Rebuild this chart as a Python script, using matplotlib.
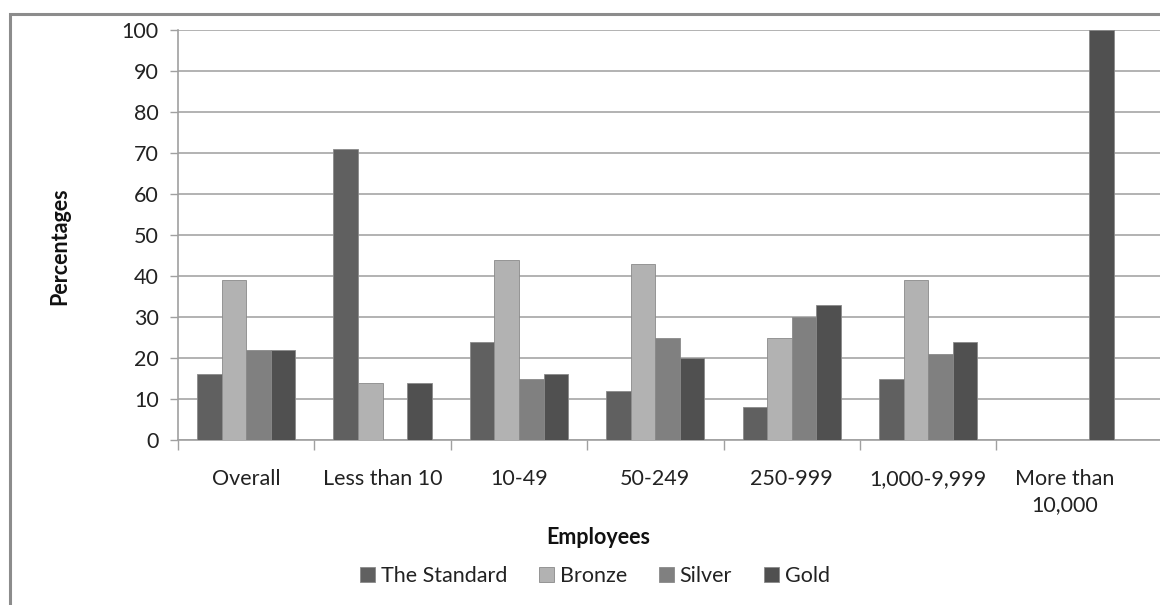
import numpy as np
import matplotlib
matplotlib.use("Agg")
import matplotlib.pyplot as plt
from matplotlib.patches import Rectangle

categories = ["Overall", "Less than 10", "10-49", "50-249", "250-999",
              "1,000-9,999", "More than\n10,000"]
series = ["The Standard", "Bronze", "Silver", "Gold"]
standard = [16, 71, 24, 12, 8, 15, 0]
bronze = [39, 14, 44, 43, 25, 39, 0]
silver = [22, 0, 15, 25, 30, 21, 0]
gold = [22, 14, 16, 20, 33, 24, 100]
yticks = [0, 10, 20, 30, 40, 50, 60, 70, 80, 90, 100]

colors = ["#606060", "#b2b2b2", "#808080", "#505050"]

plt.rcParams["font.family"] = ["Lato", "DejaVu Sans"]
fs = 15.5

W, H = 1160, 605
fig = plt.figure(figsize=(W / 100, H / 100), dpi=100)
ax = fig.add_axes([178 / W, 1 - 440 / H, 1 - 178 / W, (440 - 30) / H])

x = np.arange(len(categories))
bw = 0.18
for i, (name, vals) in enumerate(zip(series, [standard, bronze, silver, gold])):
    ax.bar(x + (i - 1.5) * bw, vals, bw, color=colors[i], label=name,
           edgecolor="#8a8a8a", linewidth=0.6, zorder=3)

ax.set_ylim(0, 100)
ax.set_xlim(-0.5, 6.7)
ax.set_yticks(yticks)
ax.yaxis.grid(True, color="#a6a6a6", linewidth=1.2, zorder=0)
ax.tick_params(axis="y", labelsize=fs, colors="#a0a0a0", labelcolor="#222222",
               length=6, width=1, pad=8)

ax.set_xticks(x)
ax.set_xticklabels(categories, fontsize=fs, color="#222222", linespacing=1.35)
ax.set_xticks(np.arange(len(categories)) - 0.5, minor=True)
ax.tick_params(axis="x", which="major", length=0, pad=21)
ax.tick_params(axis="x", which="minor", length=7, width=1, colors="#a0a0a0")

for s in ["top", "right"]:
    ax.spines[s].set_visible(False)
for s in ["left", "bottom"]:
    ax.spines[s].set_color("#a0a0a0")
    ax.spines[s].set_linewidth(1.2)

fig.text(60 / W, 1 - 246 / H, "Percentages", rotation=90, ha="center",
         va="center", fontsize=fs, fontweight="bold", color="#111111")
fig.text(598 / W, 1 - 538 / H, "Employees", ha="center", va="center",
         fontsize=fs, fontweight="bold", color="#111111")

fig.legend(loc="center", bbox_to_anchor=(595 / W, 1 - 576 / H), ncol=4,
           frameon=False, fontsize=fs, handlelength=0.7, handleheight=0.7,
           handletextpad=0.25, columnspacing=1.5, labelcolor="#222222")

fig.patches.append(Rectangle((10 / W, -0.05), 1.1, 1 - 14 / H + 0.05,
                             transform=fig.transFigure, fill=False,
                             edgecolor="#8c8c8c", linewidth=2.2))

fig.savefig("out.png", dpi=100)
